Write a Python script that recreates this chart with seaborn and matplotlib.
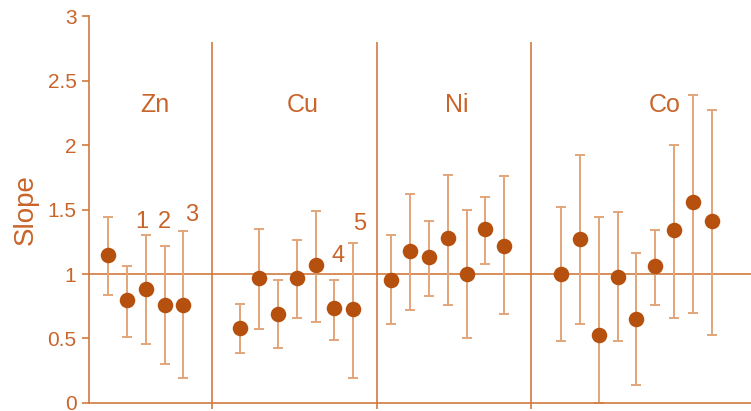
import numpy as np
import pandas as pd
import matplotlib
matplotlib.use("Agg")
import matplotlib.pyplot as plt
import seaborn as sns

# metals and the point positions belonging to each group
metals = ["Zn", "Cu", "Ni", "Co"]
metal_pos = [2.5, 10.3, 18.5, 29.5]
separators = [5.5, 14.25, 22.4]

xpos = [0, 1, 2, 3, 4,
        7, 8, 9, 10, 11, 12, 13,
        15, 16, 17, 18, 19, 20, 21,
        24, 25, 26, 27, 28, 29, 30, 31, 32]
group = ["Zn"] * 5 + ["Cu"] * 7 + ["Ni"] * 7 + ["Co"] * 9

slope = [1.15, 0.80, 0.88, 0.76, 0.76,
         0.58, 0.97, 0.69, 0.97, 1.07, 0.74, 0.73,
         0.95, 1.18, 1.13, 1.28, 1.00, 1.35, 1.22,
         1.00, 1.27, 0.53, 0.98, 0.65, 1.06, 1.34, 1.56, 1.41]
upper = [1.44, 1.06, 1.30, 1.22, 1.33,
         0.77, 1.35, 0.95, 1.26, 1.49, 0.95, 1.24,
         1.30, 1.62, 1.41, 1.77, 1.50, 1.60, 1.76,
         1.52, 1.92, 1.44, 1.48, 1.16, 1.34, 2.00, 2.39, 2.27]
lower = [0.84, 0.51, 0.46, 0.30, 0.19,
         0.39, 0.57, 0.43, 0.66, 0.63, 0.49, 0.19,
         0.61, 0.72, 0.83, 0.76, 0.50, 1.08, 0.69,
         0.48, 0.61, 0.00, 0.48, 0.14, 0.76, 0.66, 0.70, 0.53]

# numbered notes
note_text = ["1", "2", "3", "4", "5"]
note_x = [1.8, 3.0, 4.45, 12.2, 13.35]
note_y = [1.40, 1.40, 1.46, 1.14, 1.39]

df = pd.DataFrame({"x": xpos, "slope": slope, "upper": upper, "lower": lower, "metal": group})

sns.set_style("white")
plt.rcParams["font.family"] = ["Liberation Sans", "DejaVu Sans"]

dark = "#b5500f"
txt = "#c9642a"
line = "#cf7a3e"
light = "#e2a57a"

fig = plt.figure(figsize=(7.51, 4.11), dpi=100)
ax = fig.add_axes([0.1185, 0.0195, 0.8815, 0.9415])

ax.axhline(1, color=line, lw=1.2, zorder=1)
ax.vlines(separators, 0, 2.8, color=line, lw=1.2, zorder=1)

ax.errorbar(df["x"], df["slope"],
            yerr=[df["slope"] - df["lower"], df["upper"] - df["slope"]],
            fmt="none", ecolor=light, elinewidth=1.4, capsize=3.5, capthick=1.4, zorder=2)
sns.scatterplot(data=df, x="x", y="slope", color=dark, s=125, edgecolor=dark,
                linewidth=0, zorder=3, ax=ax, legend=False)

for m, p in zip(metals, metal_pos):
    ax.text(p, 2.31, m, color=txt, fontsize=18, ha="center", va="center")
for t, x, y in zip(note_text, note_x, note_y):
    ax.text(x, y, t, color=txt, fontsize=17, ha="center", va="center")

ax.set_xlim(-1.0, 34.07)
ax.set_ylim(0, 3)
ax.set_yticks([0, 0.5, 1, 1.5, 2, 2.5, 3])
ax.set_yticklabels(["0", "0.5", "1", "1.5", "2", "2.5", "3"])
ax.set_xticks(separators)
ax.set_xticklabels([])
ax.tick_params(axis="y", colors=line, labelcolor=txt, labelsize=15, length=5, width=1.2,
               direction="out", left=True, pad=4)
ax.tick_params(axis="x", colors=line, length=4, width=1.2, direction="out", bottom=True)
ax.set_xlabel("")
ax.set_ylabel("Slope", color=txt, fontsize=20, labelpad=6)

sns.despine(ax=ax)
for s in ["left", "bottom"]:
    ax.spines[s].set_color(line)
    ax.spines[s].set_linewidth(1.2)

fig.savefig("out.png", dpi=100)
